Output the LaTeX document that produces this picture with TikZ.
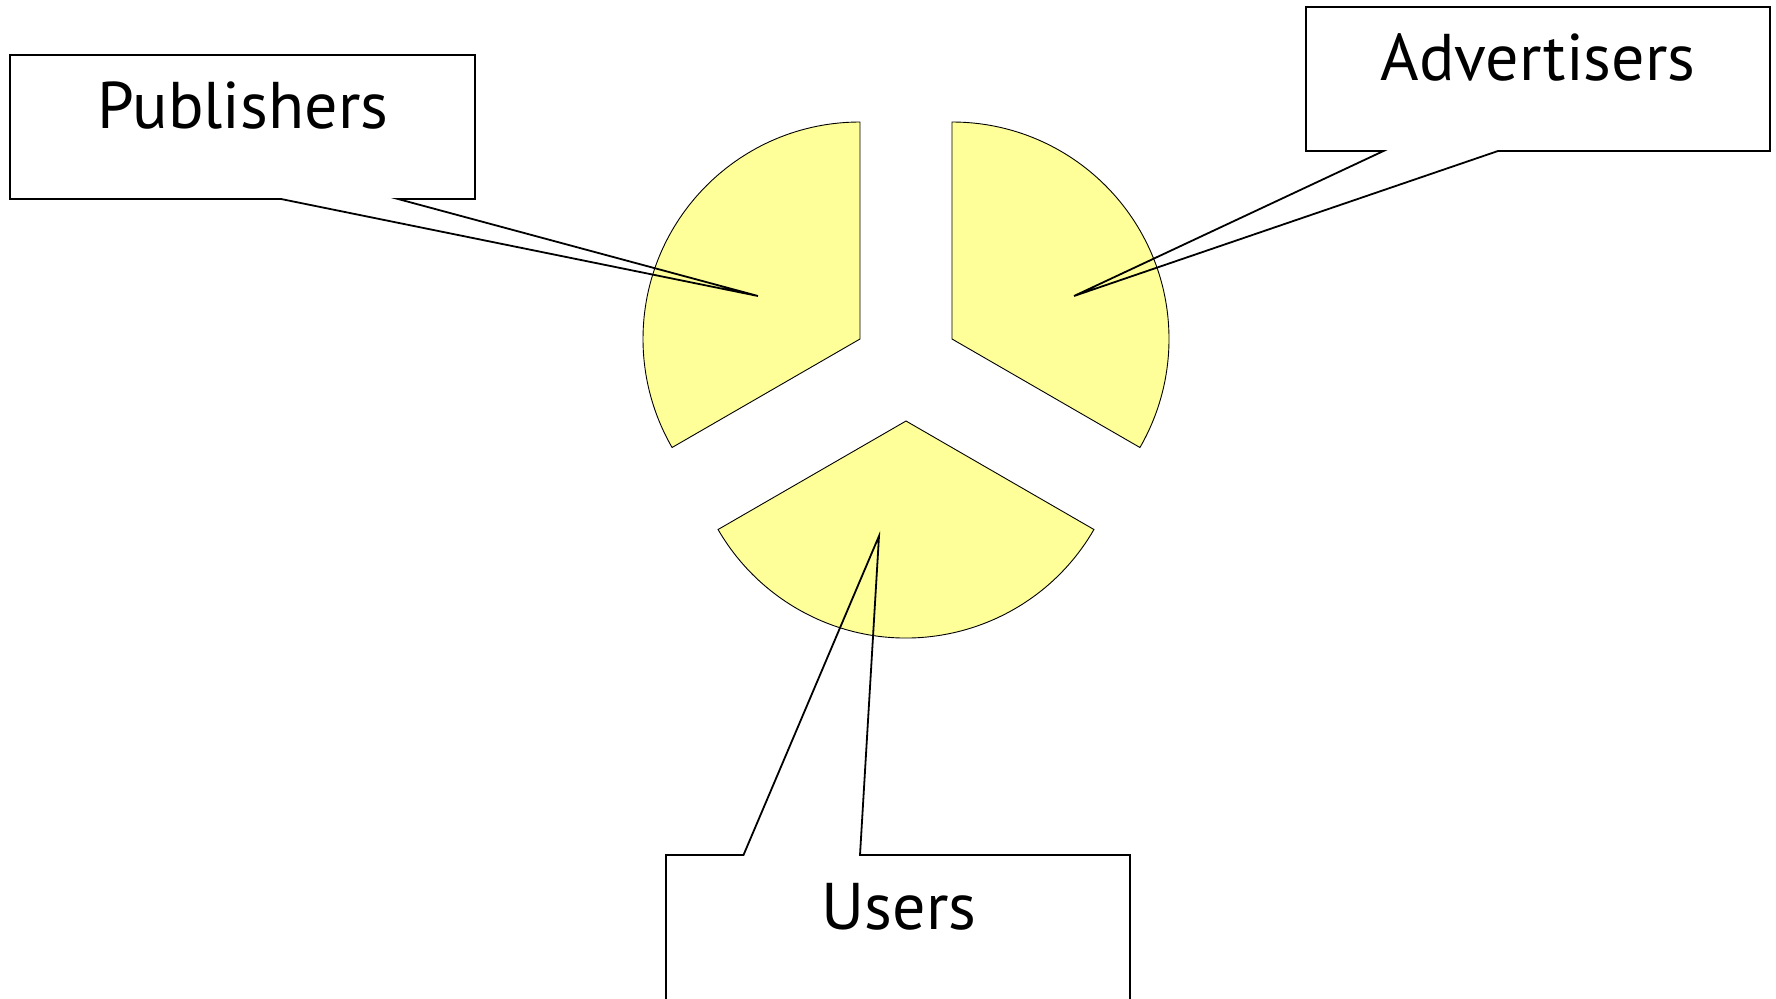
\documentclass[tikz,border=0pt]{standalone}
\usepackage{fontspec}
\setmainfont{PT Sans}
\definecolor{slicey}{HTML}{FFFF99}
\begin{document}
\begin{tikzpicture}[x=1pt,y=-1pt,
  slice/.style={fill=slicey,draw=black,line width=0.9pt,line join=miter},
  callout/.style={draw=black,line width=1.8pt,line join=miter},
  lbl/.style={anchor=base,inner sep=0pt,font=\fontsize{66}{70}\selectfont}]
\useasboundingbox (0,0) rectangle (1776,998);
% pie slices (radius 217)
\draw[slice] (860,339) -- +(90:-217) arc[start angle=-90,end angle=-210,radius=217] -- cycle;
\draw[slice] (952,339) -- +(90:-217) arc[start angle=-90,end angle=30,radius=217] -- cycle;
\draw[slice] (906,421) -- +(30:217) arc[start angle=30,end angle=150,radius=217] -- cycle;
% tips
\coordinate (ptip) at (758,296);
\coordinate (atip) at (1074,296);
\coordinate (utip) at (879,536);
% callouts
\draw[callout] (10,55) -- (475,55) -- (475,199) -- (398,199) -- (ptip) -- (281,199) -- (10,199) -- cycle;
\draw[callout] (1306,7) -- (1770,7) -- (1770,151) -- (1498,151) -- (atip) -- (1383.5,151) -- (1306,151) -- cycle;
\draw[callout] (666,1010) -- (666,855) -- (743.5,855) -- (utip) -- (860,855) -- (1130,855) -- (1130,1010);
% labels
\node[lbl] (pub) at (243,128) {Publishers};
\node[lbl] (adv) at (1538,80) {Advertisers};
\node[lbl] (usr) at (899,929) {Users};
\end{tikzpicture}
\end{document}
